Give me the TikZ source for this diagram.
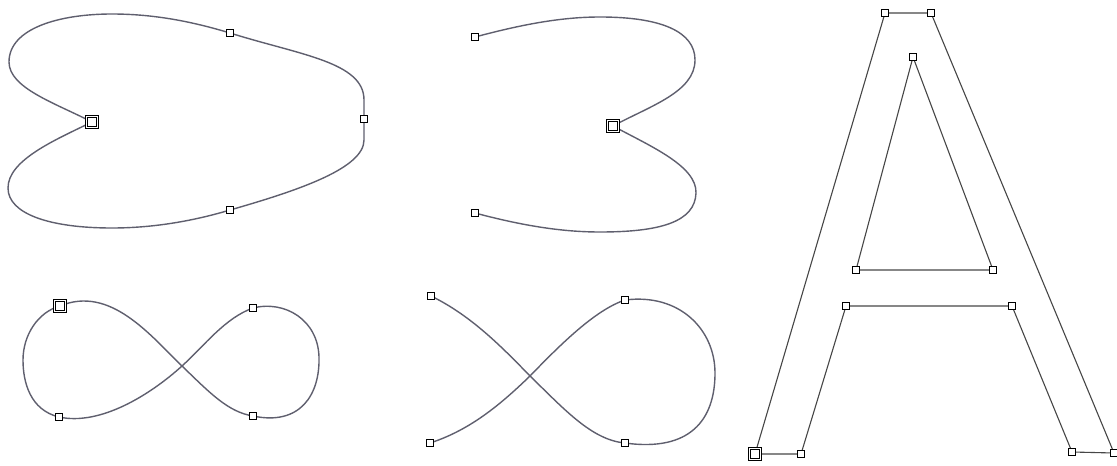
\documentclass[tikz,border=0pt]{standalone}
\usetikzlibrary{backgrounds}
\definecolor{curvecol}{RGB}{95,95,110}
\definecolor{linecol}{RGB}{70,70,70}
\tikzset{
  ptbox/.style={rectangle, draw=black, fill=white, line width=0.55pt, minimum size=3.2pt, inner sep=0pt},
  bigbox/.style={rectangle, draw=black, fill=white, line width=0.45pt, minimum size=5.2pt, inner sep=0pt, double=white, double distance=0.6pt},
  curveline/.style={draw=curvecol, line width=0.7pt},
  strokeline/.style={draw=linecol, line width=0.55pt, line join=miter},
}
\begin{document}
\begin{tikzpicture}[x=0.5pt, y=-0.5pt]
\useasboundingbox (0,0) rectangle (1117,465);
% ---------- heart ----------
\node[bigbox] (h1) at (92,122) {};
\node[ptbox] (h2) at (230,33) {};
\node[ptbox] (h3) at (364,119) {};
\node[ptbox] (h4) at (230,210) {};
% ---------- open heart ----------
\node[ptbox] (o1) at (475,37) {};
\node[bigbox] (o2) at (613,126) {};
\node[ptbox] (o3) at (475,213) {};
% ---------- closed figure eight ----------
\node[bigbox] (e1) at (60,306) {};
\node[ptbox] (e2) at (253,308) {};
\node[ptbox] (e3) at (59,417) {};
\node[ptbox] (e4) at (253,416) {};
\coordinate (ex) at (182,366);
% ---------- open figure eight ----------
\node[ptbox] (f1) at (431,296) {};
\node[ptbox] (f2) at (625,300) {};
\node[ptbox] (f3) at (430,443) {};
\node[ptbox] (f4) at (625,443) {};
\coordinate (fx) at (530,376);
% ---------- letter A ----------
\node[bigbox] (a1) at (755,454) {};
\node[ptbox] (a2) at (885,13) {};
\node[ptbox] (a3) at (931,13) {};
\node[ptbox] (a4) at (1114,453) {};
\node[ptbox] (a5) at (1072,452) {};
\node[ptbox] (a6) at (1012,306) {};
\node[ptbox] (a7) at (846,306) {};
\node[ptbox] (a8) at (801,454) {};
\node[ptbox] (b1) at (913,57) {};
\node[ptbox] (b2) at (993,270) {};
\node[ptbox] (b3) at (856,270) {};

\begin{scope}[on background layer]
% heart
\draw[curveline] (h1.center) .. controls (55,103) and (9,88) .. (9,62)
  .. controls (9,28) and (60,14) .. (112,14)
  .. controls (160,14) and (200,24) .. (h2.center)
  .. controls (300,55) and (364,62) .. (364,100)
  -- (h3.center) -- (364,140)
  .. controls (364,168) and (300,190) .. (h4.center)
  .. controls (190,222) and (150,228) .. (112,228)
  .. controls (50,228) and (8,214) .. (8,188)
  .. controls (8,160) and (55,140) .. (h1.center);
% open heart
\draw[curveline] (o1.center) .. controls (520,25) and (560,17) .. (600,17)
  .. controls (662,17) and (695,32) .. (695,60)
  .. controls (695,92) and (650,106) .. (o2.center)
  .. controls (650,146) and (697,166) .. (696,193)
  .. controls (695,222) and (660,232) .. (600,232)
  .. controls (560,232) and (520,225) .. (o3.center);
% closed figure eight
\draw[curveline] (e1.center) .. controls (110,285) and (150,335) .. (ex)
  .. controls (210,393) and (228,412) .. (e4.center)
  .. controls (300,426) and (320,395) .. (319,357)
  .. controls (318,320) and (285,300) .. (e2.center)
  .. controls (225,318) and (205,345) .. (ex)
  .. controls (150,395) and (100,426) .. (e3.center)
  .. controls (30,410) and (23,382) .. (23,360)
  .. controls (23,335) and (38,312) .. (e1.center);
% open figure eight
\draw[curveline] (f1.center) .. controls (470,315) and (500,345) .. (fx)
  .. controls (565,410) and (592,440) .. (f4.center)
  .. controls (690,452) and (715,420) .. (715,373)
  .. controls (715,330) and (680,293) .. (f2.center)
  .. controls (595,310) and (560,345) .. (fx)
  .. controls (500,405) and (470,430) .. (f3.center);
% letter A
\draw[strokeline] (a1.center) -- (a2.center) -- (a3.center) -- (a4.center) -- (a5.center)
  -- (a6.center) -- (a7.center) -- (a8.center) -- cycle;
\draw[strokeline] (b1.center) -- (b2.center) -- (b3.center) -- cycle;
\end{scope}
\end{tikzpicture}
\end{document}
